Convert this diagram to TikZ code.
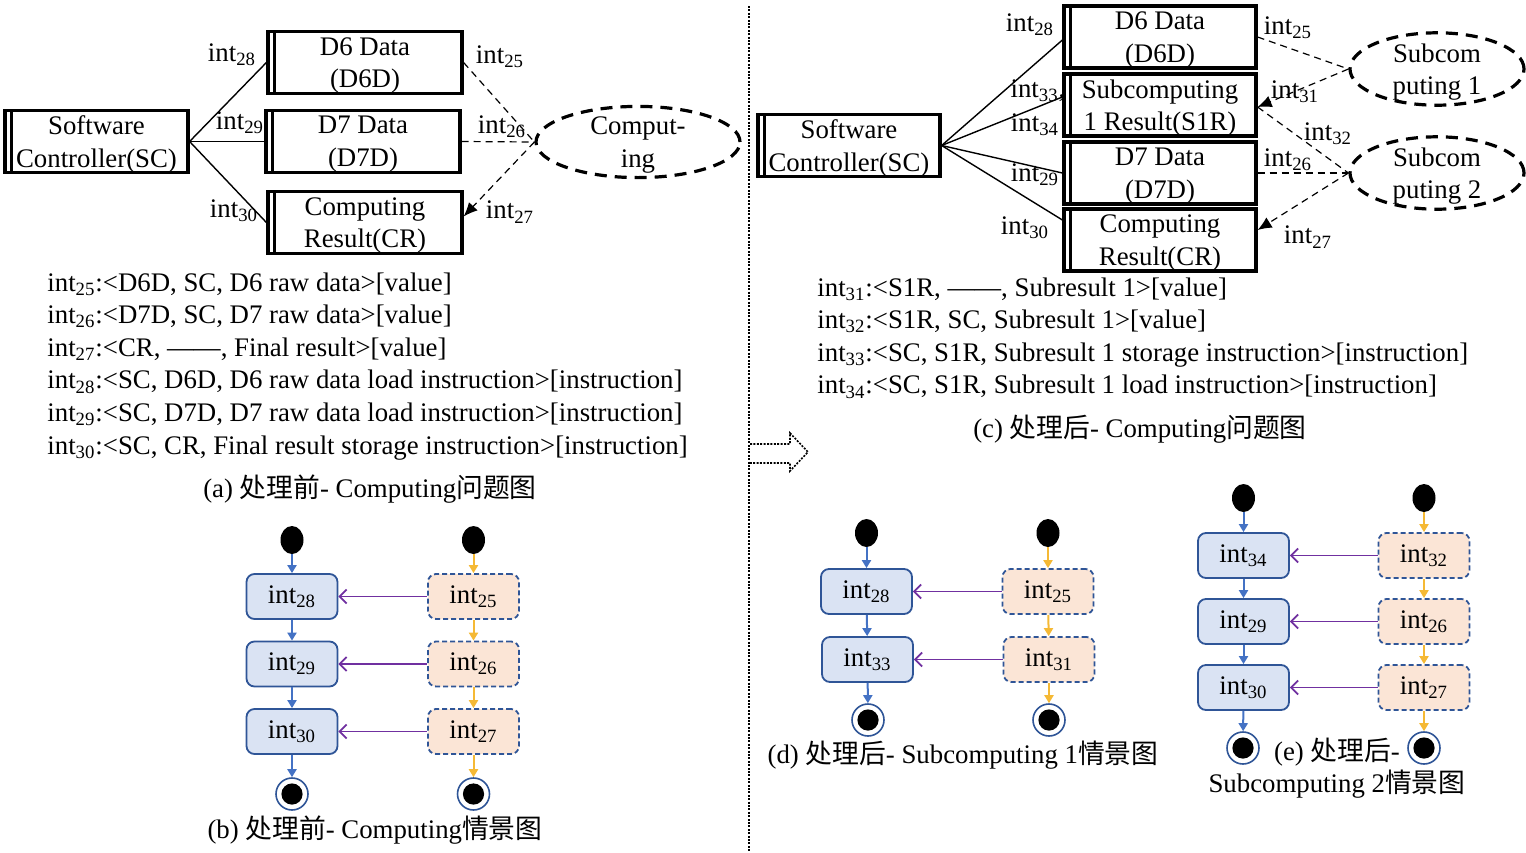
\documentclass[tikz,border=0pt]{standalone}
\usepackage{fontspec}
\setmainfont{Liberation Serif}
\newfontfamily\cjk{Noto Sans CJK SC}
\usetikzlibrary{arrows.meta,shapes.geometric,positioning,calc}

\definecolor{flowblue}{HTML}{4472C4}
\definecolor{edgeblue}{HTML}{2F5597}
\definecolor{fillblue}{HTML}{DAE3F3}
\definecolor{fillpeach}{HTML}{FBE5D6}
\definecolor{flowyellow}{HTML}{F5B935}
\definecolor{flowpurple}{HTML}{7030A0}

\begin{document}
\begin{tikzpicture}[x=0.5pt,y=-0.5pt,
	every node/.style={font=\fontsize{13.4}{16.3}\selectfont},
	domain/.style={draw, line width=1.6pt, minimum width=#1, minimum height=31pt,
		align=center, inner sep=0pt, text depth=0pt,
		path picture={\draw[line width=1.1pt]
			([xshift=3.2pt]path picture bounding box.north west) --
			([xshift=3.2pt]path picture bounding box.south west);}},
	domain/.default=97pt,
	req/.style={draw, ellipse, line width=1.6pt, dash pattern=on 6pt off 4pt,
		minimum width=#1, minimum height=29.5pt, align=center, inner sep=0pt, text depth=0pt},
	req/.default=102pt,
	lbl/.style={inner sep=1pt},
	iface/.style={line width=0.7pt},
	shared/.style={line width=0.6pt, dash pattern=on 3.5pt off 2.5pt},
	tip/.style={-{Latex[length=7pt,width=6pt]}},
	defs/.style={anchor=north west, align=left, inner sep=0pt},
	ctrl/.style={draw=edgeblue, fill=fillblue, line width=0.9pt, rounded corners=4pt,
		minimum width=45.5pt, minimum height=22.5pt, inner sep=0pt},
	env/.style={ctrl, fill=fillpeach, dash pattern=on 2.5pt off 1.5pt},
	start/.style={ellipse, fill=black, minimum width=11.5pt, minimum height=14pt, inner sep=0pt},
	stop/.style={circle, draw=edgeblue, line width=0.8pt, fill=white, minimum size=16pt,
		inner sep=0pt, path picture={\fill[black] (path picture bounding box.center) circle (5.3pt);}},
	cflow/.style={flowblue, line width=1pt, -{Triangle[length=4pt,width=4.5pt]}},
	eflow/.style={flowyellow, line width=1pt, -{Triangle[length=4pt,width=4.5pt]}},
	sync/.style={flowpurple, line width=0.9pt, -{Straight Barb[length=3.5pt,width=7pt]}},
	divider/.style={line width=0.8pt, dash pattern=on 1pt off 0.7pt}
	]
	
	\useasboundingbox (0,0) rectangle (1526,852);
	
	% (a) problem diagram before
	\node[domain=91.5pt] (scA) at (96.5,141.5) {Software\\Controller(SC)};
	\node[domain] (d6dA) at (365,62.5) {D6 Data\\(D6D)};
	\node[domain] (d7dA) at (363,141.5) {D7 Data\\(D7D)};
	\node[domain] (crA) at (365,222.5) {Computing\\Result(CR)};
	\node[req] (compA) at (638,142) {Comput-\\ing};
	
	\draw[iface] (scA.east) -- (d6dA.west) node[lbl] at (232,55) {int\textsubscript{28}};
	\draw[iface] (scA.east) -- (d7dA.west) node[lbl] at (240,123) {int\textsubscript{29}};
	\draw[iface] (scA.east) -- (crA.west) node[lbl] at (234,211) {int\textsubscript{30}};
	\draw[shared] (d6dA.east) -- (compA.west) node[lbl] at (500,57) {int\textsubscript{25}};
	\draw[shared] (d7dA.east) -- (compA.west) node[lbl] at (502,127) {int\textsubscript{26}};
	\draw[shared, tip] (compA.west) -- ([yshift=3pt]crA.east) node[lbl] at (510,212) {int\textsubscript{27}};
	
	\node[defs] (defsA) at (47,272) {%
		int\textsubscript{25}:<D6D, SC, D6 raw data>[value]\\
		int\textsubscript{26}:<D7D, SC, D7 raw data>[value]\\
		int\textsubscript{27}:<CR, ——, Final result>[value]\\
		int\textsubscript{28}:<SC, D6D, D6 raw data load instruction>[instruction]\\
		int\textsubscript{29}:<SC, D7D, D7 raw data load instruction>[instruction]\\
		int\textsubscript{30}:<SC, CR, Final result storage instruction>[instruction]};
	\node (capA) at (370,489) {(a) {\cjk 处理前}- Computing{\cjk 问题图}};
	
	% (b) scenario diagram before
	\node[start] (bS1) at (292,540) {};
	\node[ctrl] (b28) at (292,596.5) {int\textsubscript{28}};
	\node[ctrl] (b29) at (292,664) {int\textsubscript{29}};
	\node[ctrl] (b30) at (292,731.5) {int\textsubscript{30}};
	\node[stop] (bE1) at (292,794) {};
	\node[start] (bS2) at (473.5,540) {};
	\node[env] (b25) at (473.5,596.5) {int\textsubscript{25}};
	\node[env] (b26) at (473.5,664) {int\textsubscript{26}};
	\node[env] (b27) at (473.5,731.5) {int\textsubscript{27}};
	\node[stop] (bE2) at (473.5,794) {};
	\foreach \a/\b in {bS1/b28,b28/b29,b29/b30,b30/bE1}
		\draw[cflow] (\a) -- (\b);
	\foreach \a/\b in {bS2/b25,b25/b26,b26/b27,b27/bE2}
		\draw[eflow] (\a) -- (\b);
	\foreach \a/\b in {b25/b28,b26/b29,b27/b30}
		\draw[sync] (\a) -- (\b);
	\node (capB) at (375,830) {(b) {\cjk 处理前}- Computing{\cjk 情景图}};
	
	% divider and transform arrow
	\draw[divider] (749,6) -- (749,852);
	\draw[divider] (750,444) -- (790,444) -- (790,433) -- (808,452) -- (790,471) -- (790,463) -- (750,463);
	
	% (c) problem diagram after
	\node[domain=91pt] (scC) at (849,145.5) {Software\\Controller(SC)};
	\node[domain=96pt] (d6dC) at (1160,37) {D6 Data\\(D6D)};
	\node[domain=96pt] (s1rC) at (1160,105) {Subcomputing\\1 Result(S1R)};
	\node[domain=96pt] (d7dC) at (1160,173) {D7 Data\\(D7D)};
	\node[domain=96pt] (crC) at (1160,240) {Computing\\Result(CR)};
	\node[req=87pt] (sub1) at (1437,69) {Subcom\\puting 1};
	\node[req=87pt] (sub2) at (1437,173) {Subcom\\puting 2};
	
	\draw[iface] (scC.east) -- ([yshift=-1.5pt]d6dC.west) node[lbl] at (1030,25) {int\textsubscript{28}};
	\draw[iface] (scC.east) -- ([yshift=4pt]s1rC.west)
		node[lbl] at (1038,91) {int\textsubscript{33},}
		node[lbl] at (1035,125) {int\textsubscript{34}};
	\draw[iface] (scC.east) -- (d7dC.west) node[lbl] at (1035,175) {int\textsubscript{29}};
	\draw[iface] (scC.east) -- ([yshift=10pt]crC.west) node[lbl] at (1025,228) {int\textsubscript{30}};
	\draw[shared] (d6dC.east) -- (sub1.west) node[lbl] at (1288,28) {int\textsubscript{25}};
	\draw[shared, tip] (sub1.west) -- ([yshift=-1pt]s1rC.east) node[lbl] at (1295,92) {int\textsubscript{31}};
	\draw[shared] ([yshift=-1pt]s1rC.east) -- (sub2.west) node[lbl] at (1328,134) {int\textsubscript{32}};
	\draw[shared] (d7dC.east) -- (sub2.west) node[lbl] at (1288,160) {int\textsubscript{26}};
	\draw[shared, tip] (sub2.west) -- ([yshift=5pt]crC.east) node[lbl] at (1308,237) {int\textsubscript{27}};
	
	\node[defs] (defsC) at (817,277) {%
		int\textsubscript{31}:<S1R, ——, Subresult 1>[value]\\
		int\textsubscript{32}:<S1R, SC, Subresult 1>[value]\\
		int\textsubscript{33}:<SC, S1R, Subresult 1 storage instruction>[instruction]\\
		int\textsubscript{34}:<SC, S1R, Subresult 1 load instruction>[instruction]};
	\node (capC) at (1140,429) {(c) {\cjk 处理后}- Computing{\cjk 问题图}};
	
	% (d) scenario diagram of Subcomputing 1
	\node[start] (dS1) at (866.5,533) {};
	\node[ctrl] (d28) at (866.5,591.5) {int\textsubscript{28}};
	\node[ctrl] (d33) at (867.5,659.5) {int\textsubscript{33}};
	\node[stop] (dE1) at (868,720) {};
	\node[start] (dS2) at (1048,533) {};
	\node[env] (d25) at (1048,591.5) {int\textsubscript{25}};
	\node[env] (d31) at (1049,659.5) {int\textsubscript{31}};
	\node[stop] (dE2) at (1049,720) {};
	\foreach \a/\b in {dS1/d28,d28/d33,d33/dE1}
		\draw[cflow] (\a) -- (\b);
	\foreach \a/\b in {dS2/d25,d25/d31,d31/dE2}
		\draw[eflow] (\a) -- (\b);
	\foreach \a/\b in {d25/d28,d31/d33}
		\draw[sync] (\a) -- (\b);
	\node (capD) at (963,755) {(d) {\cjk 处理后}- Subcomputing 1{\cjk 情景图}};
	
	% (e) scenario diagram of Subcomputing 2
	\node[start] (eS1) at (1243.5,498) {};
	\node[ctrl] (e34) at (1243.5,555.5) {int\textsubscript{34}};
	\node[ctrl] (e29) at (1243.5,621.5) {int\textsubscript{29}};
	\node[ctrl] (e30) at (1243.5,687.5) {int\textsubscript{30}};
	\node[stop] (eE1) at (1243,748) {};
	\node[start] (eS2) at (1424,498) {};
	\node[env] (e32) at (1424,555.5) {int\textsubscript{32}};
	\node[env] (e26) at (1424,621.5) {int\textsubscript{26}};
	\node[env] (e27) at (1424,687.5) {int\textsubscript{27}};
	\node[stop] (eE2) at (1424,748) {};
	\foreach \a/\b in {eS1/e34,e34/e29,e29/e30,e30/eE1}
		\draw[cflow] (\a) -- (\b);
	\foreach \a/\b in {eS2/e32,e32/e26,e26/e27,e27/eE2}
		\draw[eflow] (\a) -- (\b);
	\foreach \a/\b in {e32/e34,e26/e29,e27/e30}
		\draw[sync] (\a) -- (\b);
	\node[align=center] (capE) at (1337,768) {(e) {\cjk 处理后}-\\Subcomputing 2{\cjk 情景图}};
	
\end{tikzpicture}
\end{document}
